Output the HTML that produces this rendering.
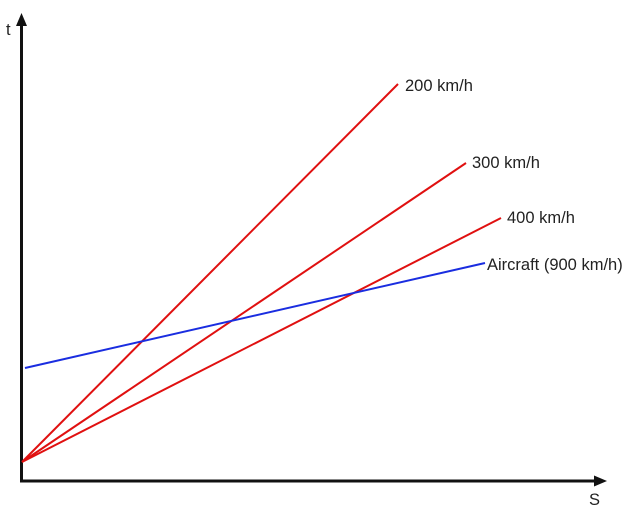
<!DOCTYPE html>
<html><head><meta charset="utf-8"><style>
html,body{margin:0;padding:0;background:#fff;}
svg{display:block;}
text{font-family:"Liberation Sans",Arial,sans-serif;font-size:16.5px;fill:#222;}
</style></head><body>
<svg width="627" height="512" viewBox="0 0 627 512" xmlns="http://www.w3.org/2000/svg">
<line x1="21.5" y1="24" x2="21.5" y2="482" stroke="#111" stroke-width="3"/>
<polygon points="21.5,13 16,26 27,26" fill="#111"/>
<line x1="20" y1="481" x2="597" y2="481" stroke="#111" stroke-width="3"/>
<polygon points="607,481 594,475.5 594,486.5" fill="#111"/>
<text x="6" y="35">t</text>
<text x="589" y="505">S</text>
<g stroke="#e01010" stroke-width="2" fill="none">
<line x1="22" y1="462" x2="398" y2="84"/>
<line x1="22" y1="462" x2="466" y2="163"/>
<line x1="22" y1="462" x2="501" y2="218"/>
</g>
<line x1="25" y1="368" x2="485" y2="263" stroke="#1a2de0" stroke-width="2"/>
<text x="405" y="91">200 km/h</text>
<text x="472" y="168">300 km/h</text>
<text x="507" y="223">400 km/h</text>
<text x="487" y="270">Aircraft (900 km/h)</text>
</svg>
</body></html>
